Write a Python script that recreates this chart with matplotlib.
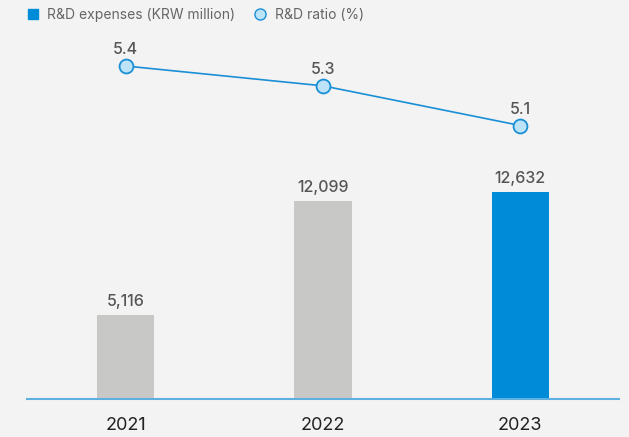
import matplotlib
matplotlib.use('Agg')
import matplotlib.pyplot as plt
from matplotlib.lines import Line2D

plt.rcParams['font.family'] = ['Inter', 'DejaVu Sans']

years = ['2021', '2022', '2023']
rd_expenses = [5116, 12099, 12632]
rd_ratio = [5.4, 5.3, 5.1]

bg = '#f3f3f3'
bar_colors = ['#c8c9c7', '#c8c9c7', '#008bd8']
line_color = '#1a8fd6'

fig = plt.figure(figsize=(6.29, 4.37), dpi=100, facecolor=bg)
ax = fig.add_axes([27 / 629, 38 / 437, 592 / 629, 379 / 437])
ax.set_facecolor(bg)

x = range(len(years))
bars = ax.bar(x, rd_expenses, width=0.29, color=bar_colors, zorder=2)
for xi, v in zip(x, rd_expenses):
    ax.text(xi, v + 350, f'{v:,}', ha='center', va='bottom', fontsize=11.5,
            color='#555555', fontweight='medium')

ax.set_xlim(-0.5, 2.5)
ax.set_ylim(0, 23124)
ax.set_yticks([])
for s in ['top', 'right', 'left']:
    ax.spines[s].set_visible(False)
ax.spines['bottom'].set_color('#5fb0de')
ax.spines['bottom'].set_linewidth(1.5)
ax.set_xticks(list(x))
ax.set_xticklabels(years, fontsize=13, color='#222222')
ax.tick_params(axis='x', length=0, pad=13)

ax2 = ax.twinx()
ax2.set_ylim(3.721, 5.632)
ax2.axis('off')
ax2.plot(list(x), rd_ratio, color=line_color, lw=1.2, marker='o', markersize=10,
         markerfacecolor='#bde3f8', markeredgecolor=line_color, markeredgewidth=1.3, zorder=3)
for xi, v in zip(x, rd_ratio):
    ax2.text(xi, v + 0.045, f'{v}', ha='center', va='bottom', fontsize=11.5,
             color='#555555', fontweight='medium')

handles = [
    Line2D([], [], marker='s', linestyle='none', markersize=7, markerfacecolor='#008bd8',
           markeredgecolor='#008bd8'),
    Line2D([], [], marker='o', linestyle='none', markersize=8, markerfacecolor='#bde3f8',
           markeredgecolor=line_color),
]
fig.legend(handles, ['R&D expenses (KRW million)', 'R&D ratio (%)'], loc='upper left',
           bbox_to_anchor=(0.01, 1.01), ncol=2, frameon=False, fontsize=10,
           handletextpad=0.05, columnspacing=0.8, labelcolor='#666666')

fig.savefig('out.png', dpi=100, facecolor=bg)
